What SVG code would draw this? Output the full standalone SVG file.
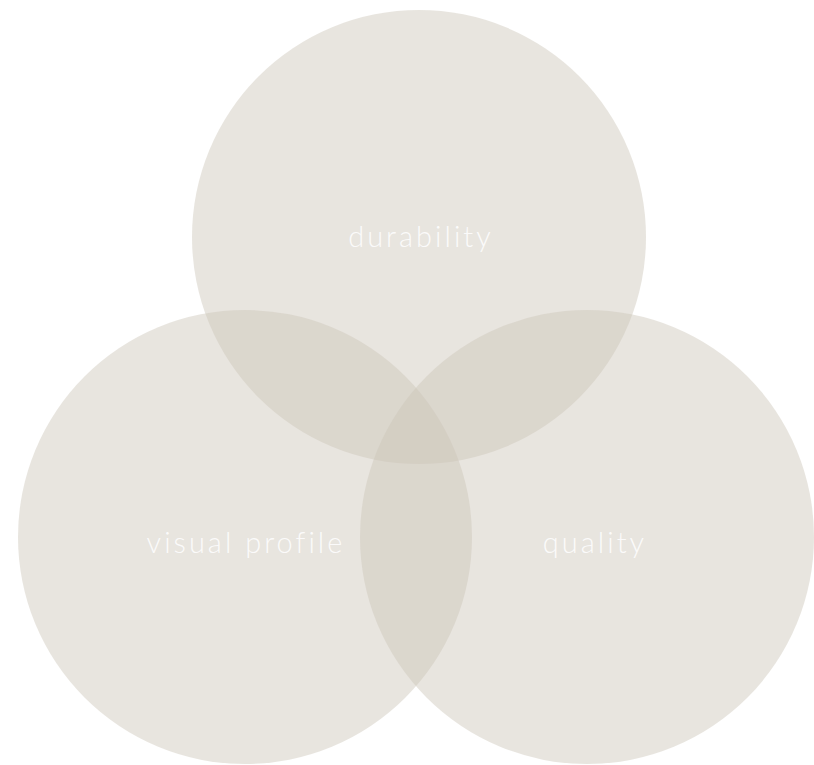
<svg xmlns="http://www.w3.org/2000/svg" width="814" height="765" viewBox="0 0 814 765">
<style>
.c{fill:#cbc5b9;fill-opacity:0.45}
.t{fill:#ffffff;fill-opacity:0.85;font-family:Lato,"Open Sans",sans-serif;font-weight:300;font-size:29px;letter-spacing:3px;text-anchor:middle}
</style>
<rect width="814" height="765" fill="#ffffff"/>
<g id="durability"><circle class="c" cx="419" cy="237" r="227"/></g>
<g id="visual-profile"><circle class="c" cx="245" cy="537" r="227"/></g>
<g id="quality"><circle class="c" cx="587" cy="537" r="227"/></g>
<g id="labels">
<text class="t" x="421" y="247">durability</text>
<text class="t" x="246" y="553">visual profile</text>
<text class="t" x="595" y="553">quality</text>
</g>
<g id="connectors"/>
</svg>
